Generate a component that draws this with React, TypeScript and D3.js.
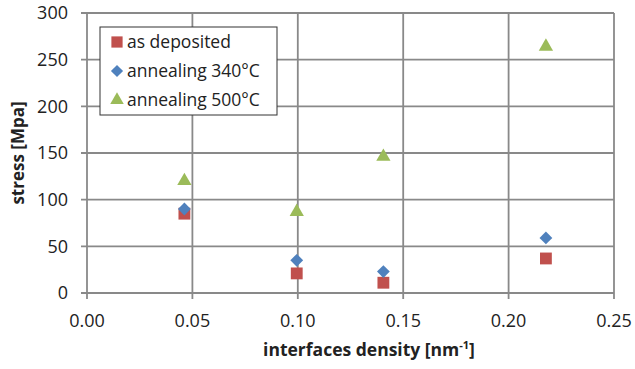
import React from 'react';
import * as d3 from 'd3';

const density = [0.0462, 0.0995, 0.1406, 0.2177];
const asDeposited = [85, 21, 11, 37];
const anneal340 = [90, 35, 23, 59];
const anneal500 = [120, 87, 146, 264];
const xTicks = [0, 0.05, 0.1, 0.15, 0.2, 0.25];
const yTicks = [0, 50, 100, 150, 200, 250, 300];

const W = 635;
const H = 369;
const margin = { top: 13, right: 21, bottom: 76, left: 87 };
const font = "'Open Sans', sans-serif";

const series = [
    { name: 'as deposited', values: asDeposited, color: '#C0504D', symbol: d3.symbolSquare, size: 140, rot: 0 },
    { name: 'annealing 340°C', values: anneal340, color: '#4F81BD', symbol: d3.symbolSquare, size: 82, rot: 45 },
    { name: 'annealing 500°C', values: anneal500, color: '#9BBB59', symbol: d3.symbolTriangle, size: 88, rot: 0 },
];

const App = () => {
    const x = d3.scaleLinear().domain([0, 0.25]).range([margin.left, W - margin.right]);
    const y = d3.scaleLinear().domain([0, 300]).range([H - margin.bottom, margin.top]);
    const grid = '#898989';

    return (
        <svg width={W} height={H} style={{ position: 'absolute', left: 0, top: 0, background: '#fff' }}>
            {/* grid */}
            {yTicks.map(t => (
                <g key={'y' + t}>
                    <line x1={x(0) - 6} x2={x(0.25)} y1={y(t)} y2={y(t)} stroke={grid} strokeWidth={1.8} />
                    <text x={x(0) - 19} y={y(t)} dy="0.36em" textAnchor="end" fontFamily={font} fontSize={18} fill="#222">
                        {t}
                    </text>
                </g>
            ))}
            {xTicks.map(t => (
                <g key={'x' + t}>
                    <line x1={x(t)} x2={x(t)} y1={y(300)} y2={y(0) + 6} stroke={grid} strokeWidth={1.8} />
                    <text x={x(t)} y={y(0) + 34} textAnchor="middle" fontFamily={font} fontSize={18} fill="#222">
                        {t.toFixed(2)}
                    </text>
                </g>
            ))}

            {/* points */}
            {series.map(s => (
                <g key={s.name}>
                    {s.values.map((v, i) => (
                        <path
                            key={i}
                            d={d3.symbol(s.symbol, s.size)()}
                            transform={`translate(${x(density[i])},${y(v)}) rotate(${s.rot})`}
                            fill={s.color}
                        />
                    ))}
                </g>
            ))}

            {/* axis titles */}
            <text
                transform={`translate(24,${(y(0) + y(300)) / 2}) rotate(-90)`}
                textAnchor="middle"
                fontFamily={font}
                fontWeight="bold"
                fontSize={17}
                fill="#222"
            >
                stress [Mpa]
            </text>
            <text x={369} y={356} textAnchor="middle" fontFamily={font} fontWeight="bold" fontSize={17.5} fill="#222">
                interfaces density [nm<tspan dy={-7} fontSize={11}>-1</tspan>
                <tspan dy={7}>]</tspan>
            </text>

            {/* legend */}
            <rect x={100} y={27} width={177} height={88} fill="#fff" stroke="#333" strokeWidth={1} />
            {series.map((s, i) => (
                <g key={'lg' + s.name} transform={`translate(0,${42 + i * 29})`}>
                    <path d={d3.symbol(s.symbol, s.size * 0.9)()} transform={`translate(117,0) rotate(${s.rot})`} fill={s.color} />
                    <text x={127} y={0} dy="0.36em" fontFamily={font} fontSize={17.5} fill="#222">
                        {s.name}
                    </text>
                </g>
            ))}
        </svg>
    );
};

export default App;
